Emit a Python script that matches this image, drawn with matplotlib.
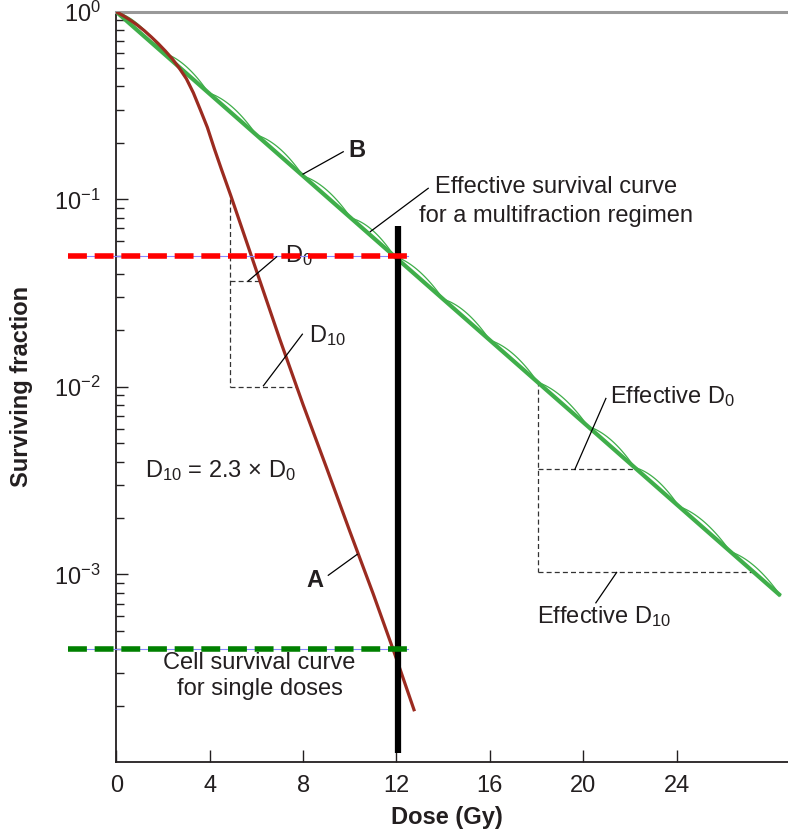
import numpy as np
import matplotlib
matplotlib.use("Agg")
import matplotlib.pyplot as plt
from matplotlib.ticker import FixedLocator, FixedFormatter, LogLocator, NullFormatter

plt.rcParams['font.family'] = ['Liberation Sans', 'DejaVu Sans']
plt.rcParams['mathtext.fontset'] = 'custom'
plt.rcParams['mathtext.rm'] = 'Liberation Sans'
plt.rcParams['mathtext.it'] = 'Liberation Sans'
plt.rcParams['mathtext.bf'] = 'Liberation Sans:bold'

# ---- data ----
# curve A: single doses
red_dose = [0.0, 0.3, 0.6, 0.9, 1.2, 1.5, 1.8, 2.1, 2.4, 2.7, 3.0, 3.3, 3.6, 3.9, 4.2, 4.5, 4.9,
            6.0, 7.0, 8.0, 9.0, 10.0, 11.0, 12.0, 12.75]
red_sf = [1.0, 0.953, 0.903, 0.849, 0.793, 0.734, 0.676, 0.618, 0.561, 0.50, 0.44, 0.37,
          0.30, 0.242, 0.186, 0.145, 0.105, 0.0417, 0.018, 0.00804, 0.00372, 0.0017,
          0.00079, 0.000355, 0.00019]
# curve B: effective multifraction line
eff_dose = [0.0, 28.45]
eff_sf = [1.0, 7.7e-4]
# fraction boundaries (cusps of the scalloped curve)
cusps = [0.0, 2.0, 3.95, 6.0, 8.0, 10.05, 11.9, 14.0, 16.0, 18.05, 20.2, 22.2, 24.1, 26.3, 28.45]

# reference markers
red_level = 0.05
green_level = 4.0e-4
hline_x = [-2.07, 12.49]
black_x = 12.07
black_sf = [0.072, 1.11e-4]

# D0 / D10 construction on curve A
a_x0 = 4.87
a_top = 0.1
a_d0_sf = 0.0368
a_d0_x1 = 6.2
a_d10_sf = 0.01
a_d10_x1 = 7.75
# effective construction on curve B
b_x0 = 18.05
b_top = 0.0107
b_d0_sf = 0.00363
b_d0_x1 = 22.2
b_d10_sf = 0.00103
b_d10_x1 = 27.35

yticks = [1e-3, 1e-2, 1e-1, 1.0]
ytick_labels = [r'$\mathregular{10^{-3}}$', r'$\mathregular{10^{-2}}$',
                r'$\mathregular{10^{-1}}$', r'$\mathregular{10^{0}}$']
xticks = [0, 4, 8, 12, 16, 20, 24]

TXT = '#231f20'
RED = '#9b2b20'
GREEN = '#3fae4a'
ARC_BULGE = 0.036   # decades, height of each fraction's shoulder arc

fig = plt.figure(figsize=(7.88, 8.33), dpi=100)
W, H = 788, 833
ax = fig.add_axes([116.3 / W, (H - 762) / H, (W - 116.3) / W, (762 - 11.8) / H])
ax.set_yscale('log')
ax.set_xlim(0, 28.77)
ax.set_ylim(1e-4, 1.0)

# scalloped thin curve: one shoulder arc per fraction, joined at the cusps
slope = (np.log10(eff_sf[1]) - np.log10(eff_sf[0])) / (eff_dose[1] - eff_dose[0])
for a, b in zip(cusps[:-1], cusps[1:]):
    u = np.linspace(0, 1, 50)
    La = slope * a
    Lb = slope * b
    y = La + (Lb - La) * u + ARC_BULGE * 4 * u * (1 - u)
    ax.plot(a + (b - a) * u, 10 ** y, color=GREEN, lw=0.9, zorder=3)

ax.plot(eff_dose, eff_sf, color=GREEN, lw=3.0, zorder=4, solid_capstyle='butt')
ax.plot(red_dose, red_sf, color=RED, lw=2.3, zorder=5)

# construction lines
dk = dict(color='#333333', lw=0.9, ls=(0, (4, 2.5)), zorder=2)
ax.plot([a_x0, a_x0], [a_top, a_d10_sf], **dk)
ax.plot([a_x0, a_d0_x1], [a_d0_sf, a_d0_sf], **dk)
ax.plot([a_x0, a_d10_x1], [a_d10_sf, a_d10_sf], **dk)
ax.plot([b_x0, b_x0], [b_top, b_d10_sf], **dk)
ax.plot([b_x0, b_d0_x1], [b_d0_sf, b_d0_sf], **dk)
ax.plot([b_x0, b_d10_x1], [b_d10_sf, b_d10_sf], **dk)

# black vertical
ax.plot([black_x, black_x], black_sf, color='black', lw=4.5, zorder=6, solid_capstyle='butt')

# dashed horizontals (extend left beyond the axis)
for lvl, col in [(red_level, '#ff0000'), (green_level, '#008000')]:
    ax.plot(hline_x, [lvl, lvl], color='#8888ff', lw=0.8, zorder=7, clip_on=False)
    ax.plot(hline_x, [lvl, lvl], color=col, lw=4.0, ls=(0, (3.4, 1.4)), zorder=8,
            clip_on=False, solid_capstyle='butt', dash_capstyle='butt')

# leader lines and labels
def leader(x0, y0, x1, y1):
    ax.plot([x0, x1], [y0, y1], color='black', lw=0.9, zorder=9, clip_on=False)

FS = 17
tk = dict(fontsize=FS, color=TXT, va='baseline')
leader(8.0, 0.1364, 9.72, 0.1794)
ax.text(9.94, 0.1675, 'B', fontweight='bold', ha='left', **tk)
leader(10.88, 0.0673, 13.36, 0.1145)
ax.text(18.83, 0.1076, 'Effective survival curve', ha='center', **tk)
ax.text(18.83, 0.0760, 'for a multifraction regimen', ha='center', **tk)
leader(5.65, 0.0367, 6.87, 0.0494)
ax.text(7.22, 0.0463, r'D$_0$', ha='left', **tk)
leader(6.30, 0.01014, 7.97, 0.0191)
ax.text(8.25, 0.0173, r'D$_{10}$', ha='left', **tk)
ax.text(1.23, 0.0033, r'D$_{10}$ = 2.3 × D$_0$', ha='left', **tk)
leader(9.08, 0.00099, 10.32, 0.00128)
ax.text(8.15, 0.00086, 'A', fontweight='bold', ha='left', **tk)
leader(19.64, 0.00363, 20.97, 0.00868)
ax.text(21.14, 0.00817, r'Effective D$_0$', ha='left', **tk)
leader(21.43, 0.001025, 20.54, 0.000706)
ax.text(18.0, 0.000548, r'Effective D$_{10}$', ha='left', **tk)
ax.text(6.14, 3.15e-4, 'Cell survival curve', ha='center', **tk)
ax.text(6.14, 2.27e-4, 'for single doses', ha='center', **tk)

# axes styling
ax.spines['right'].set_visible(False)
ax.spines['top'].set_color('#999999')
ax.spines['top'].set_linewidth(2.2)
ax.spines['left'].set_color(TXT)
ax.spines['bottom'].set_color(TXT)
ax.spines['left'].set_linewidth(1.3)
ax.spines['bottom'].set_linewidth(1.3)

ax.yaxis.set_major_locator(FixedLocator(yticks))
ax.yaxis.set_major_formatter(FixedFormatter(ytick_labels))
ax.yaxis.set_minor_locator(LogLocator(base=10, subs=np.arange(2, 10)))
ax.yaxis.set_minor_formatter(NullFormatter())
ax.set_xticks(xticks)
ax.set_xticklabels([str(v) for v in xticks])
ax.tick_params(axis='both', which='major', direction='in', length=8.5, width=1.0,
               color=TXT, labelcolor=TXT, labelsize=FS)
ax.tick_params(axis='y', which='minor', direction='in', length=6, width=1.0, color=TXT)
ax.tick_params(axis='y', which='major', pad=11)
ax.tick_params(axis='x', which='major', pad=9)

ax.set_xlabel('Dose (Gy)', fontsize=FS, fontweight='bold', color=TXT)
ax.xaxis.set_label_coords(0.492, -0.058)
ax.set_ylabel('Surviving fraction', fontsize=FS, fontweight='bold', color=TXT)
ax.yaxis.set_label_coords(-0.124, 0.5)

fig.savefig('out.png', dpi=100)
